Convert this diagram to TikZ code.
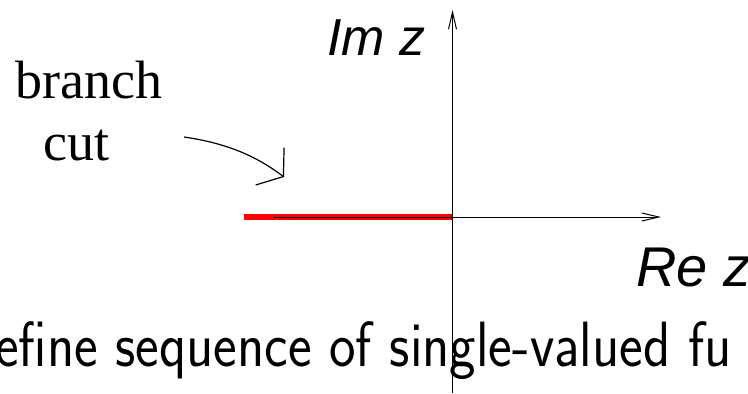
\documentclass[tikz,border=0pt]{standalone}
\usepackage{fontspec}
\newfontfamily\helvfont{Liberation Sans}
\newfontfamily\timesfont{Liberation Serif}
\usetikzlibrary{arrows.meta}

\begin{document}
\begin{tikzpicture}[x=0.5pt,y=-0.5pt,
    axis/.style={line width=0.5pt, -{Straight Barb[length=8.5pt,width=4pt]}},
    redcut/.style={red, line width=3pt},
    label/.style={inner sep=0pt, anchor=base west}]
    \useasboundingbox (0,0) rectangle (748,393);
    \clip (0,0) rectangle (748,393);

    \coordinate (O) at (452.5,217);
    \coordinate (ytop) at (452.5,10);
    \coordinate (ybot) at (452.5,393);
    \coordinate (xleft) at (274,217);
    \coordinate (xright) at (661,217);
    \coordinate (cutend) at (244,217);
    \coordinate (tail) at (184,137);
    \coordinate (tip) at (284,177);

    \node[label, font=\helvfont\itshape\fontsize{26}{26}\selectfont] (im) at (327,55) {Im z};
    \node[label, font=\helvfont\itshape\fontsize{28}{28}\selectfont] (re) at (636,286) {Re z};
    \node[label, font=\timesfont\fontsize{27}{27}\selectfont] (branch) at (15,98) {branch};
    \node[label, font=\timesfont\fontsize{27}{27}\selectfont] (cut) at (43,160) {cut};
    \node[label, xscale=0.88, font=\sffamily\fontsize{32}{32}\selectfont] (caption) at (-5,366)
        {efine sequence of single-valued fu};

    \draw[redcut] (cutend) -- (O);
    \draw[axis] (xleft) -- (xright);
    \draw[axis] (ybot) -- (ytop);
    \draw[line width=0.6pt, -{Straight Barb[length=8.5pt,width=23.5pt]}]
        (tail) .. controls (225,143) and (255,155) .. (tip);
\end{tikzpicture}
\end{document}
